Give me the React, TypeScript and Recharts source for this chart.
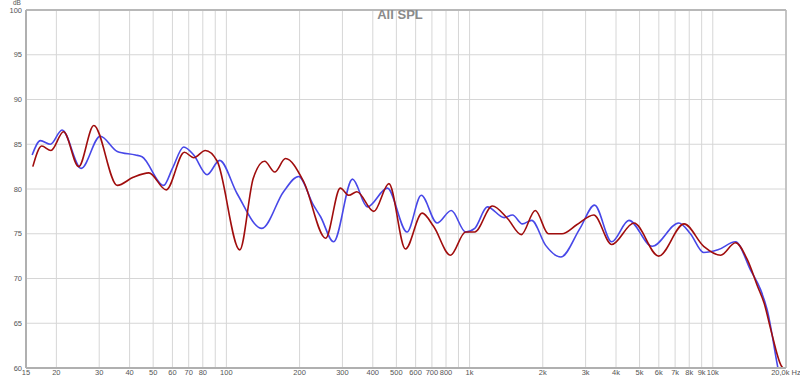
import { LineChart, Line, XAxis, YAxis, CartesianGrid, ReferenceLine } from 'recharts';

// blue trace
const blueFreq = [15.9, 17.2, 18.9, 21.1, 25.3, 30.3, 35.6, 42.3, 45, 55.2, 60, 66.8, 73.4, 83.3, 93.8, 110.6, 140, 171.8, 198, 228, 244, 276, 330, 380, 459, 553, 633, 735, 841, 963, 1050, 1183, 1388, 1502, 1648, 1800, 2055, 2373, 2844, 3264, 3840, 4520, 5630, 7250, 8090, 9174, 10500, 12400, 14320, 15750, 16740, 18500, 19000];
const blueDb = [83.8, 85.4, 85.0, 86.6, 82.3, 85.9, 84.2, 83.8, 83.6, 80.4, 82.3, 84.7, 83.8, 81.6, 83.2, 79.5, 75.6, 79.7, 81.4, 78.2, 76.9, 74.1, 81.1, 78.0, 80.1, 75.2, 79.3, 76.2, 77.6, 75.2, 75.6, 78.0, 76.8, 77.1, 76.1, 76.5, 73.7, 72.4, 75.6, 78.2, 74.1, 76.5, 73.6, 76.2, 75.0, 72.9, 73.2, 74.1, 70.9, 68.7, 66.5, 60.1, 58.5];

// red trace
const redFreq = [16, 17.4, 19.0, 21.4, 24.7, 28.5, 35.6, 41.4, 48, 56.6, 67.2, 73.4, 81.9, 91.7, 113.5, 129, 143.7, 158, 175, 208, 256, 294, 319, 344, 404, 466, 545, 638, 712, 834, 963, 1050, 1241, 1432, 1632, 1863, 2109, 2400, 2757, 3240, 3840, 4740, 5990, 7620, 9174, 10770, 12400, 13870, 15290, 16280, 17350, 19080, 20000];
const redDb = [82.5, 84.8, 84.3, 86.4, 82.5, 87.1, 80.4, 81.3, 81.8, 79.9, 84.1, 83.5, 84.3, 83.1, 73.2, 81.2, 83.1, 81.9, 83.4, 80.8, 74.5, 80.1, 79.3, 79.7, 77.5, 80.6, 73.3, 77.3, 75.8, 72.6, 75.2, 75.2, 78.1, 76.7, 74.9, 77.6, 75.0, 75.0, 76.0, 77.1, 73.8, 76.2, 72.5, 76.1, 73.6, 72.6, 74.0, 72.1, 69.1, 67.2, 64.2, 60.3, 59.8];

const xTicks = [15, 20, 30, 40, 50, 60, 70, 80, 90, 100, 200, 300, 400, 500, 600, 700, 800, 900, 1000, 2000, 3000, 4000, 5000, 6000, 7000, 8000, 9000, 10000, 20000];
const yTicks = [60, 65, 70, 75, 80, 85, 90, 95, 100];

const blueData = blueFreq.map((f, i) => ({ f, db: blueDb[i] }));
const redData = redFreq.map((f, i) => ({ f, db: redDb[i] }));

const fmtHz = (v: number) => {
    if (v === 90 || v === 900) return '';
    if (v === 20000) return '20,0k Hz';
    if (v >= 1000) return `${v / 1000}k`;
    return `${v}`;
};

const tickStyle = { fill: '#555', fontSize: 7.5, fontFamily: 'Liberation Sans, Arial, sans-serif' };

export default function App() {
    return (
        <div style={{ position: 'absolute', left: 0, top: 0, width: 800, height: 381, background: '#fff' }}>
            <LineChart width={800} height={381} margin={{ top: 10, right: 14, left: 0, bottom: 0 }}>
                <CartesianGrid stroke="#d6d6d6" strokeWidth={1} />
                <XAxis
                    type="number"
                    dataKey="f"
                    scale="log"
                    domain={[15, 20000]}
                    ticks={xTicks}
                    interval={0}
                    allowDataOverflow
                    tickFormatter={fmtHz}
                    tickLine={false}
                    tickSize={2}
                    tickMargin={0}
                    height={13}
                    axisLine={{ stroke: '#b0b0b0', strokeWidth: 2 }}
                    tick={tickStyle}
                />
                <YAxis
                    type="number"
                    domain={[60, 100]}
                    ticks={yTicks}
                    interval={0}
                    allowDataOverflow
                    tickLine={false}
                    tickSize={2}
                    tickMargin={2}
                    width={26}
                    axisLine={{ stroke: '#b0b0b0', strokeWidth: 2 }}
                    tick={tickStyle}
                />
                <ReferenceLine y={100} stroke="#b8b8b8" strokeWidth={2} />
                <ReferenceLine x={20000} stroke="#b8b8b8" strokeWidth={1.5} />
                <Line data={blueData} dataKey="db" type="monotone" stroke="#4848e8" strokeWidth={1.6} dot={false} isAnimationActive={false} />
                <Line data={redData} dataKey="db" type="monotone" stroke="#a00d0d" strokeWidth={1.6} dot={false} isAnimationActive={false} />
            </LineChart>
            <div style={{ position: 'absolute', left: 0, width: 800, top: 7, textAlign: 'center', fontFamily: 'Liberation Sans, Arial, sans-serif', fontWeight: 'bold', fontSize: 13, color: '#8a8a8a' }}>
                All SPL
            </div>
            <div style={{ position: 'absolute', left: 13, top: -1, fontFamily: 'Liberation Sans, Arial, sans-serif', fontSize: 6.5, color: '#555' }}>
                dB
            </div>
        </div>
    );
}
